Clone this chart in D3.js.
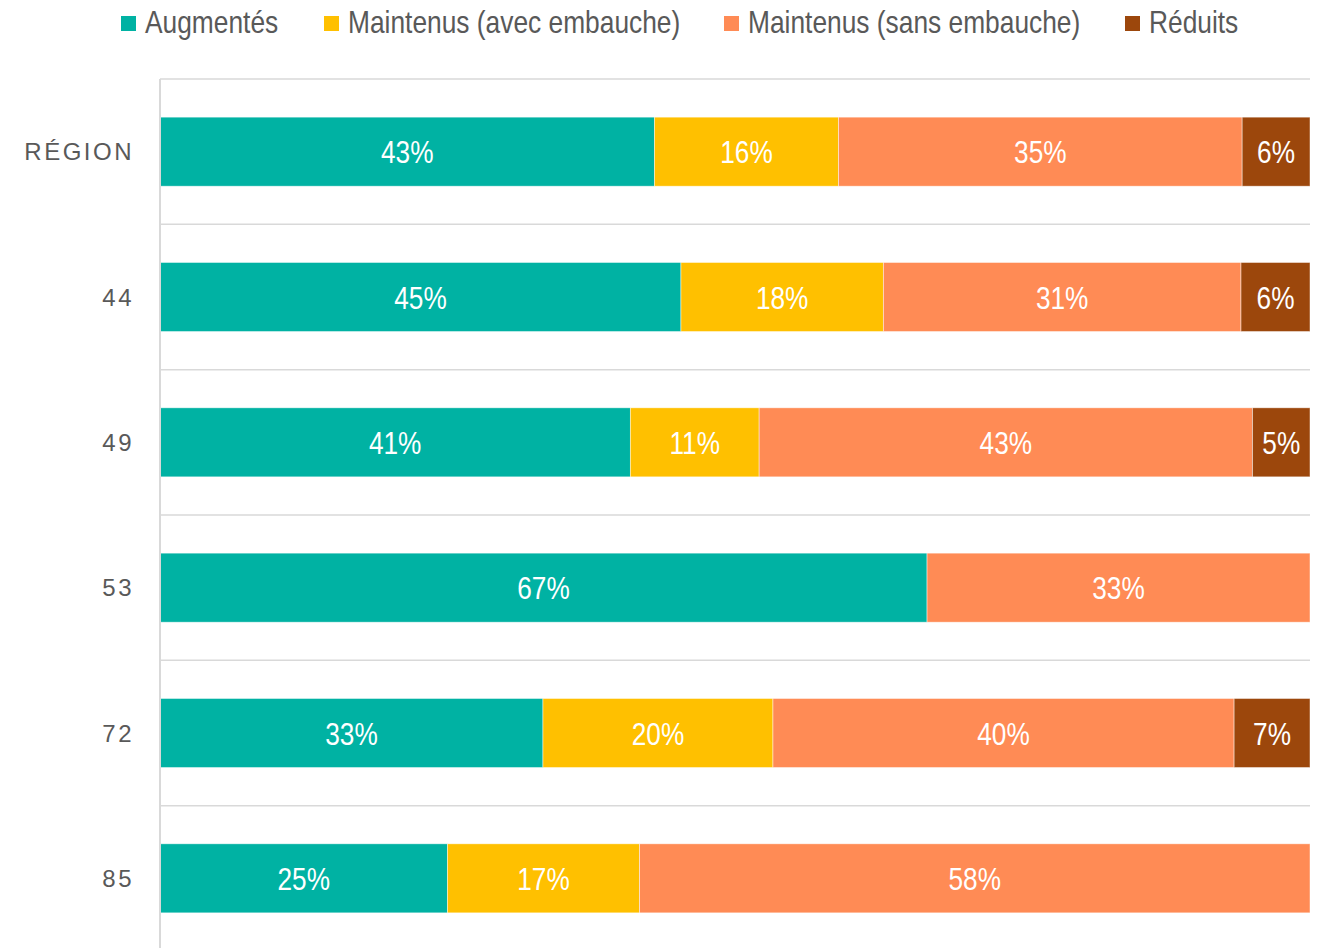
<!DOCTYPE html>
<html>
<head>
<meta charset="utf-8">
<script src="https://cdn.jsdelivr.net/npm/d3@7"></script>
<style>
  body { margin: 0; background: #fff; }
  svg text { font-family: "Liberation Sans", Arial, sans-serif; }
</style>
</head>
<body>
<svg id="chart"></svg>
<script>
let w = 1319;
let h = 948;
let narrow = 0.82; // no Arial Narrow installed, squeeze the regular face

let categories = ["RÉGION", "44", "49", "53", "72", "85"];
let seriesNames = ["Augmentés", "Maintenus (avec embauche)", "Maintenus (sans embauche)", "Réduits"];
let colors = ["#00B2A3", "#FFC000", "#FF8B55", "#9C470C"];
let augmentes = [43.0, 45.3, 40.9, 66.7, 33.3, 25.0];
let avecEmbauche = [16.0, 17.6, 11.2, 0, 20.0, 16.7];
let sansEmbauche = [35.1, 31.1, 42.9, 33.3, 40.1, 58.3];
let reduits = [5.9, 6.0, 5.0, 0, 6.6, 0];

let legendX = [121, 324, 724, 1125];

let rows = categories.map((c, i) => ({
  cat: c,
  s0: augmentes[i],
  s1: avecEmbauche[i],
  s2: sansEmbauche[i],
  s3: reduits[i]
}));

let keys = ["s0", "s1", "s2", "s3"];
let stacked = d3.stack().keys(keys)(rows);

let svg = d3.select("#chart")
  .attr("width", w)
  .attr("height", h);

let xScale = d3.scaleLinear().domain([0, 100]).range([160, 1310]);
let yScale = d3.scaleBand().domain(categories).range([79, 951])
  .paddingInner(0.525).paddingOuter(0.2625);
let step = yScale.step();

// gridlines at band boundaries
let grid = d3.range(categories.length).map(i => yScale.range()[0] + i * step);
svg.selectAll("line.grid")
  .data(grid)
  .enter()
  .append("line")
  .attr("class", "grid")
  .attr("x1", 160)
  .attr("x2", 1310)
  .attr("y1", d => d)
  .attr("y2", d => d)
  .style("stroke", "#d9d9d9")
  .style("stroke-width", 1.5);

let groups = svg.selectAll("g.serie")
  .data(stacked)
  .enter()
  .append("g")
  .attr("class", "serie")
  .style("fill", (d, i) => colors[i]);

groups.selectAll("rect")
  .data(d => d)
  .enter()
  .append("rect")
  .attr("x", d => xScale(d[0]))
  .attr("y", d => yScale(d.data.cat))
  .attr("width", d => xScale(d[1]) - xScale(d[0]))
  .attr("height", yScale.bandwidth())
  .style("stroke", "rgba(255,255,255,0.6)")
  .style("stroke-width", 0.75);

groups.selectAll("text")
  .data(d => d.filter(p => p[1] - p[0] > 0))
  .enter()
  .append("text")
  .attr("transform", d => {
    let cx = (xScale(d[0]) + xScale(d[1])) / 2;
    let cy = yScale(d.data.cat) + yScale.bandwidth() / 2 + 11.5;
    return "translate(" + cx + "," + cy + ") scale(" + narrow + ",1)";
  })
  .attr("text-anchor", "middle")
  .style("fill", "#fff")
  .style("font-size", "32px")
  .text(d => Math.round(d[1] - d[0]) + "%");

// left axis
let yAxis = d3.axisLeft(yScale).tickSize(0).tickPadding(0);
let ax = svg.append("g")
  .attr("transform", "translate(160,0)")
  .call(yAxis);
ax.select(".domain").remove();
ax.append("line")
  .attr("x1", 0).attr("x2", 0)
  .attr("y1", 79).attr("y2", h)
  .style("stroke", "#d9d9d9")
  .style("stroke-width", 2);
ax.selectAll(".tick text")
  .attr("x", -26)
  .attr("dy", "0.36em")
  .style("fill", "#595959")
  .style("font-size", "24px")
  .style("letter-spacing", "2.5px");

// legend
let legend = svg.append("g");
let items = legend.selectAll("g")
  .data(seriesNames)
  .enter()
  .append("g")
  .attr("transform", (d, i) => "translate(" + legendX[i] + ",0)");
items.append("rect")
  .attr("x", 0).attr("y", 16)
  .attr("width", 15).attr("height", 15)
  .style("fill", (d, i) => colors[i]);
items.append("text")
  .attr("transform", "translate(24,33) scale(0.85,1)")
  .style("fill", "#595959")
  .style("font-size", "31px")
  .text(d => d);
</script>
</body>
</html>
